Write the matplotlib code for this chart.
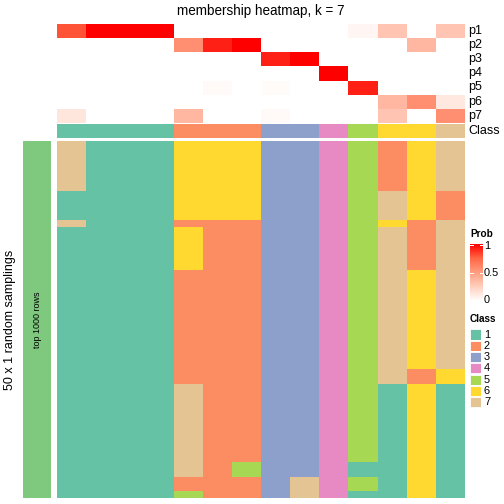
import numpy as np
import matplotlib
matplotlib.use("Agg")
import matplotlib.pyplot as plt
from matplotlib.colors import ListedColormap, LinearSegmentedColormap

plt.rcParams['font.family'] = ['Liberation Sans', 'DejaVu Sans']

# membership probabilities per sample (14 samples), rows p1..p7
prob_labels = ['p1', 'p2', 'p3', 'p4', 'p5', 'p6', 'p7']
p1 = [0.8, 1, 1, 1, 0, 0, 0, 0, 0, 0, 0.05, 0.3, 0, 0.3]
p2 = [0, 0, 0, 0, 0.57, 0.92, 1, 0, 0, 0, 0, 0, 0.37, 0]
p3 = [0, 0, 0, 0, 0, 0, 0, 0.92, 1, 0, 0, 0, 0, 0]
p4 = [0, 0, 0, 0, 0, 0, 0, 0, 0, 1, 0, 0, 0, 0]
p5 = [0, 0, 0, 0, 0, 0.03, 0, 0.02, 0, 0, 0.92, 0, 0, 0]
p6 = [0, 0, 0, 0, 0, 0, 0, 0, 0, 0, 0, 0.37, 0.57, 0.12]
p7 = [0.13, 0, 0, 0, 0.37, 0, 0, 0.03, 0, 0, 0, 0.3, 0, 0.57]

# consensus class of each sample
sample_class = [1, 1, 1, 1, 2, 2, 2, 3, 3, 4, 5, 6, 6, 7]

# class membership in each of the 50 random samplings (one string per row)
samplings = (
    ["71116663345267"] * 7 +
    ["11116663345762"] * 4 +
    ["71112223345627"] * 1 +
    ["11116223345727"] * 6 +
    ["11112223345767"] * 14 +
    ["11112223345726"] * 2 +
    ["11117223345161"] * 11 +
    ["11117253341161"] * 2 +
    ["11112223745161"] * 2 +
    ["11115223741161"] * 1
)

class_names = ['1', '2', '3', '4', '5', '6', '7']
class_colors = ['#66C2A5', '#FC8D62', '#8DA0CB', '#E78AC3', '#A6D854', '#FFD92F', '#E5C494']

prob_cmap = LinearSegmentedColormap.from_list(
    'prob', [(0, '#FFFFFF'), (0.25, '#FFCFBE'), (0.5, '#FF9E81'), (0.75, '#FF6846'), (1, '#FF0000')])
class_cmap = ListedColormap(class_colors)

W = H = 504
fig = plt.figure(figsize=(7, 7), dpi=72)


def box(x0, y0, x1, y1):
    # pixel box (top-left origin) -> axes
    ax = fig.add_axes([x0 / W, 1 - y1 / H, (x1 - x0) / W, (y1 - y0) / H])
    ax.set_axis_off()
    return ax


X0, X1 = 57.3, 465.3

# probability rows
prob = np.array([p1, p2, p3, p4, p5, p6, p7])
ax = box(X0, 24, X1, 122.7)
ax.imshow(prob, cmap=prob_cmap, vmin=0, vmax=1, aspect='auto', interpolation='nearest')
for i, lab in enumerate(prob_labels):
    fig.text(468 / W, 1 - (24 + 14.1 * (i + 0.5)) / H, lab, fontsize=12.5, va='center', ha='left')

# class row
ax = box(X0, 124, X1, 137.7)
ax.imshow(np.array([sample_class]) - 1, cmap=class_cmap, vmin=-0.5, vmax=6.5, aspect='auto',
          interpolation='nearest')
fig.text(468 / W, 1 - 131 / H, 'Class', fontsize=12.5, va='center', ha='left')

# main heatmap
mat = np.array([[int(c) for c in r] for r in samplings])
ax = box(X0, 141, X1, 498)
ax.imshow(mat - 1, cmap=class_cmap, vmin=-0.5, vmax=6.5, aspect='auto', interpolation='nearest')

# left group bar
ax = box(23, 141, 51, 498)
ax.add_patch(plt.Rectangle((0, 0), 1, 1, color='#7FC97F'))
ax.text(0.5, 0.5, 'top 1000 rows', rotation=90, fontsize=9, ha='center', va='center')
fig.text(10 / W, 1 - 320 / H, '50 x 1 random samplings', rotation=90, fontsize=12.5,
         ha='center', va='center')

# title
fig.text(261 / W, 1 - 11 / H, 'membership heatmap, k = 7', fontsize=13.5, ha='center', va='center')

# Prob legend
fig.text(470 / W, 1 - 234 / H, 'Prob', fontsize=10, fontweight='bold', ha='left', va='center')
ax = box(470, 244, 483, 301)
ax.imshow(np.linspace(1, 0, 100).reshape(-1, 1), cmap=prob_cmap, vmin=0, vmax=1,
          aspect='auto', extent=(0, 1, 0, 1))
ax.set_xlim(0, 1)
ax.set_ylim(0, 1)
for v in (0.5, 1.0):
    yy = min(v, 0.99)
    ax.plot([0, 0.2], [yy, yy], color='white', lw=1)
    ax.plot([0.8, 1], [yy, yy], color='white', lw=1)
for v, lab in ((1.0, '1'), (0.5, '0.5'), (0.0, '0')):
    fig.text(484 / W, 1 - (246 + (1 - v) * 54) / H, lab, fontsize=11, ha='left', va='center')

# Class legend
fig.text(470 / W, 1 - 319 / H, 'Class', fontsize=10, fontweight='bold', ha='left', va='center')
for i, (name, col) in enumerate(zip(class_names, class_colors)):
    y0 = 329 + 11.3 * i
    lax = box(470, y0, 481, y0 + 11)
    lax.add_patch(plt.Rectangle((0.04, 0.04), 0.92, 0.92, facecolor=col, edgecolor='white', lw=0.8))
    fig.text(484 / W, 1 - (y0 + 5.5) / H, name, fontsize=11, ha='left', va='center')

fig.savefig('out.png', dpi=72)
